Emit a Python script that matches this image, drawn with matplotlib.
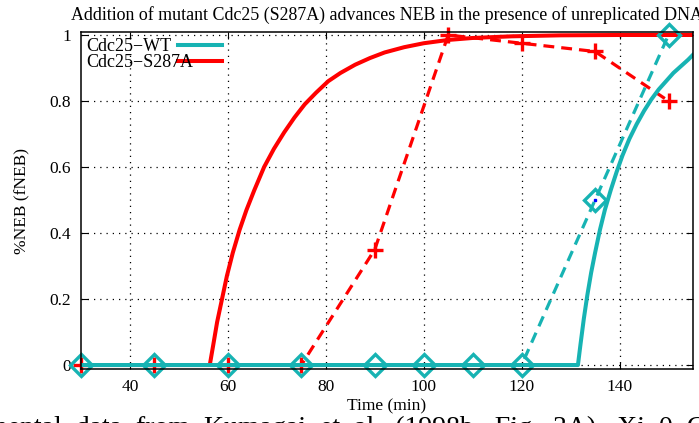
import matplotlib as mpl
mpl.use('Agg')
import matplotlib.pyplot as plt
import numpy as np

plt.rcParams['font.family'] = ['Liberation Serif', 'DejaVu Serif']

# experimental points
t_wt = [30, 45, 60, 75, 90, 100, 110, 120, 135, 150]
f_wt = [0, 0, 0, 0, 0, 0, 0, 0, 0.5, 1.0]
t_mut = [30, 45, 60, 75, 90, 105, 120, 135, 150]
f_mut = [0, 0, 0, 0, 0.35, 1.0, 0.975, 0.95, 0.80]

# model curves
tm_wt = [30, 131.5, 132.0, 132.7, 133.4, 134.2, 135.0, 136.0, 137.0, 138.2, 139.4, 140.6,
         142.0, 143.5, 145.0, 146.5, 148.0, 149.5, 151.0, 152.5, 154.0, 155.0]
fm_wt = [0, 0, 0.06, 0.14, 0.21, 0.28, 0.34, 0.41, 0.47, 0.53, 0.585, 0.635,
         0.685, 0.73, 0.77, 0.805, 0.835, 0.86, 0.885, 0.905, 0.925, 0.94]
tm_mut = [30, 56.3, 57.0, 57.8, 58.8, 59.8, 61.0, 62.4, 63.8, 65.4, 67.4, 69.4, 71.5,
          73.6, 75.7, 78.0, 80.5, 83.0, 86.0, 89.0, 92.0, 96.0, 100.0, 105.0, 110.0,
          118.0, 128.0, 140.0, 155.0]
fm_mut = [0, 0, 0.06, 0.13, 0.20, 0.27, 0.34, 0.41, 0.47, 0.53, 0.60, 0.655, 0.705,
          0.75, 0.79, 0.825, 0.86, 0.885, 0.91, 0.93, 0.947, 0.963, 0.975, 0.985, 0.991,
          0.996, 0.999, 1.0, 1.0]

cyan = '#17b3b3'
red = '#ff0000'

fig = plt.figure(figsize=(6.99, 4.23), dpi=100)
ax = fig.add_axes([0.1159, 0.1277, 0.8755, 0.7966])

ax.plot(t_mut, f_mut, color=red, lw=2.3, ls=(0, (3.4, 2.2)), marker='+', ms=12, mew=2.4,
        clip_on=False)
ax.plot(tm_mut, fm_mut, color=red, lw=2.9)
ax.plot(tm_wt, fm_wt, color=cyan, lw=2.9)
ax.plot(t_wt, f_wt, color=cyan, lw=2.3, ls=(0, (3.4, 2.2)), marker='D', ms=11,
        mew=2.4, mfc='none', clip_on=False)
ax.plot([135], [0.5], color='blue', marker='s', ms=1.5, ls='none')

ax.set_xlim(30, 155)
ax.set_ylim(-0.012, 1.009)
ax.set_xticks([40, 60, 80, 100, 120, 140])
ax.set_yticks([0, 0.2, 0.4, 0.6, 0.8, 1])
ax.set_yticklabels(['0', '0.2', '0.4', '0.6', '0.8', '1'])
ax.tick_params(direction='in', top=True, right=True, labelsize=12.5, length=5, pad=7)
ax.grid(True, color='black', ls=(0, (1, 4)), lw=0.9)
for s in ax.spines.values():
    s.set_linewidth(1.1)

ax.set_xlabel('Time (min)', fontsize=12.5, labelpad=3)
ax.set_ylabel('%NEB (fNEB)', fontsize=12.5, labelpad=14)
ax.set_title('Addition of mutant Cdc25 (S287A) advances NEB in the presence of unreplicated DNA',
             fontsize=12.9, pad=9)

# key
ax.text(0.008, 0.958, 'Cdc25\u2212WT', transform=ax.transAxes, fontsize=13, va='center')
ax.text(0.008, 0.911, 'Cdc25\u2212S287A', transform=ax.transAxes, fontsize=13, va='center')
ax.plot([0.158, 0.231], [0.960, 0.960], transform=ax.transAxes, color=cyan, lw=2.9)
ax.plot([0.158, 0.231], [0.913, 0.913], transform=ax.transAxes, color=red, lw=2.9)

# caption fragment below the chart (cut by the page edge in the reference)
fig.text(-0.02, -0.012, 'mental  data  from  Kumagai  et  al.  (1998b,  Fig.  3A).  Xi  0  C',
         fontsize=20, va='center', ha='left')

plt.savefig('out.png', dpi=100)
